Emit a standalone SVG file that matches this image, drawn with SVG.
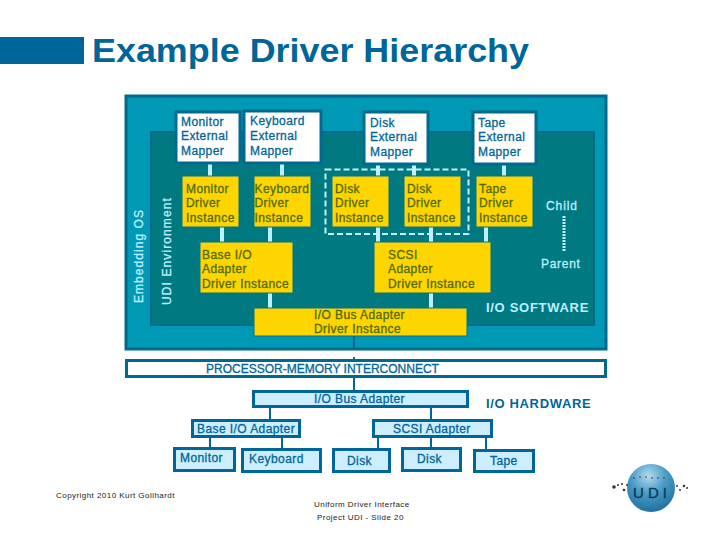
<svg xmlns="http://www.w3.org/2000/svg" width="720" height="540" viewBox="0 0 720 540">
<style>
text{font-family:"Liberation Sans",Arial,sans-serif}
.title{font-size:33.5px;font-weight:bold;fill:#006699}
.w{fill:#fff;stroke:#006A8E;stroke-width:3}
.y{fill:#FFD500;stroke:#00738A;stroke-width:1}
.h{fill:#CCEEFF;stroke:#006699;stroke-width:3}
.tb{font-size:12px;fill:#006699;stroke:#006699;stroke-width:.3;letter-spacing:.42px}
.ty{font-size:12px;fill:#4F6B00;stroke:#4F6B00;stroke-width:.3;letter-spacing:.42px}
.tl{font-size:12px;fill:#BDEFFF;stroke:#BDEFFF;stroke-width:.3}
.bl{font-size:13px;font-weight:bold;fill:#BDEFFF}
.ts{font-size:8px;fill:#222;letter-spacing:.45px}
.lc{stroke:#BDEFFF;stroke-width:4;fill:none}
.dc{stroke:#006699;stroke-width:2;fill:none}
</style>
<defs><radialGradient id="globe" cx="45%" cy="25%" r="80%"><stop offset="0" stop-color="#B5DAEA"/><stop offset=".45" stop-color="#4A9CC8"/><stop offset="1" stop-color="#1B6C98"/></radialGradient></defs>
<rect x="0" y="37" width="84" height="27" fill="#006699"/>
<text class="title" x="92" y="62" textLength="437" lengthAdjust="spacingAndGlyphs">Example Driver Hierarchy</text>

<g id="embedding-os"><rect x="126" y="96" width="480" height="253" fill="#0099B5" stroke="#006A8E" stroke-width="3"/>
<text class="tl" transform="translate(143,303) rotate(-90)" letter-spacing="1.05">Embedding OS</text></g>
<g id="udi-environment"><rect x="151" y="132" width="443" height="193" fill="#007A80" stroke="#006A8E" stroke-width="2"/>
<text class="tl" transform="translate(171,305) rotate(-90)" letter-spacing="1.1">UDI Environment</text></g>

<g id="connectors">
<path class="lc" d="M210 163V176M282 163V176M222 227V242M270 227V242M270 293V308M378 164V176M414 164V176M504 164V176M378 227V242M431 227V242M486 227V242M431 293V308"/>
<path d="M564 216V251" stroke="#BDEFFF" stroke-width="3" stroke-dasharray="2 1" fill="none"/>
<path class="dc" d="M354 336V349M354 357V359M354 378V390M270 408V419M431 408V419M210 438V447M282 438V448M378 438V448M431 438V447M486 438V449"/>
</g>

<rect x="325.500" y="169.500" width="143" height="64.500" fill="none" stroke="#C5F0F8" stroke-width="2" stroke-dasharray="6 3"/>

<g id="monitor-mapper"><rect class="w" x="176" y="112" width="64" height="51"/><text class="tb" x="181" y="126">Monitor</text><text class="tb" x="181" y="140">External</text><text class="tb" x="181" y="155">Mapper</text></g>
<g id="keyboard-mapper"><rect class="w" x="244" y="111" width="77" height="52"/><text class="tb" x="250" y="125">Keyboard</text><text class="tb" x="250" y="140">External</text><text class="tb" x="250" y="155">Mapper</text></g>
<g id="disk-mapper"><rect class="w" x="364" y="112" width="64" height="52"/><text class="tb" x="370" y="127">Disk</text><text class="tb" x="370" y="141">External</text><text class="tb" x="370" y="156">Mapper</text></g>
<g id="tape-mapper"><rect class="w" x="473" y="112" width="63" height="52"/><text class="tb" x="478" y="127">Tape</text><text class="tb" x="478" y="141">External</text><text class="tb" x="478" y="156">Mapper</text></g>

<g id="monitor-driver"><rect class="y" x="182" y="176" width="57" height="51"/><text class="ty" x="186" y="193">Monitor</text><text class="ty" x="186" y="207">Driver</text><text class="ty" x="186" y="222">Instance</text></g>
<g id="keyboard-driver"><rect class="y" x="254" y="176" width="57" height="51"/><text class="ty" x="254.500" y="193">Keyboard</text><text class="ty" x="254.500" y="207">Driver</text><text class="ty" x="254.500" y="222">Instance</text></g>
<g id="disk-driver-1"><rect class="y" x="332" y="176" width="57" height="51"/><text class="ty" x="335" y="193">Disk</text><text class="ty" x="335" y="207">Driver</text><text class="ty" x="335" y="222">Instance</text></g>
<g id="disk-driver-2"><rect class="y" x="404" y="176" width="57" height="51"/><text class="ty" x="407" y="193">Disk</text><text class="ty" x="407" y="207">Driver</text><text class="ty" x="407" y="222">Instance</text></g>
<g id="tape-driver"><rect class="y" x="476" y="176" width="57" height="51"/><text class="ty" x="479" y="193">Tape</text><text class="ty" x="479" y="207">Driver</text><text class="ty" x="479" y="222">Instance</text></g>
<g id="base-io-driver"><rect class="y" x="200" y="242" width="93" height="51"/><text class="ty" x="202" y="259">Base I/O</text><text class="ty" x="202" y="273">Adapter</text><text class="ty" x="202" y="288">Driver Instance</text></g>
<g id="scsi-driver"><rect class="y" x="374" y="242" width="117" height="51"/><text class="ty" x="388" y="259">SCSI</text><text class="ty" x="388" y="273">Adapter</text><text class="ty" x="388" y="288">Driver Instance</text></g>
<g id="io-bus-driver"><rect class="y" x="254" y="308" width="213" height="28"/><text class="ty" x="314" y="319">I/O Bus Adapter</text><text class="ty" x="314" y="333">Driver Instance</text></g>

<text class="tl" x="546" y="210" letter-spacing=".9">Child</text>
<text class="tl" x="541" y="268" letter-spacing=".7">Parent</text>
<text class="bl" x="486" y="312" letter-spacing=".7">I/O SOFTWARE</text>

<g id="interconnect"><rect class="w" x="126.500" y="360.500" width="479" height="16" stroke="#006699"/><text class="tb" x="206" y="373" style="letter-spacing:0">PROCESSOR-MEMORY INTERCONNECT</text></g>
<g id="io-bus-adapter"><rect class="h" x="253.500" y="391.500" width="214" height="15"/><text class="tb" x="314" y="403">I/O Bus Adapter</text></g>
<text x="486" y="408" font-size="13" font-weight="bold" fill="#006699" letter-spacing=".65">I/O HARDWARE</text>
<g id="base-io-adapter"><rect class="h" x="192.500" y="420.500" width="107" height="16"/><text class="tb" x="197" y="433">Base I/O Adapter</text></g>
<g id="scsi-adapter"><rect class="h" x="373.500" y="420.500" width="118" height="16"/><text class="tb" x="393" y="433">SCSI Adapter</text></g>
<g id="monitor"><rect class="h" x="174.500" y="448.500" width="60" height="22"/><text class="tb" x="180" y="462">Monitor</text></g>
<g id="keyboard"><rect class="h" x="242.500" y="449.500" width="78" height="22"/><text class="tb" x="249" y="463">Keyboard</text></g>
<g id="disk-1"><rect class="h" x="333.500" y="449.500" width="56" height="22"/><text class="tb" x="347" y="465">Disk</text></g>
<g id="disk-2"><rect class="h" x="402.500" y="448.500" width="58" height="22"/><text class="tb" x="417" y="463">Disk</text></g>
<g id="tape"><rect class="h" x="474.500" y="450.500" width="59" height="21"/><text class="tb" x="490" y="465">Tape</text></g>

<text class="ts" x="56" y="498">Copyright 2010 Kurt Gollhardt</text>
<text class="ts" x="314" y="507">Uniform Driver Interface</text>
<text class="ts" x="317" y="520">Project UDI - Slide 20</text>

<g id="logo">
<circle cx="651" cy="488" r="24" fill="url(#globe)"/>
<text x="652" y="498" text-anchor="middle" font-size="15" letter-spacing="4" fill="#0E3A5A" stroke="#0E3A5A" stroke-width=".4">UDI</text>
<g fill="#333"><circle cx="614" cy="487" r="1.800"/><circle cx="618" cy="485" r="1"/><circle cx="622" cy="484" r="1"/><circle cx="624" cy="490" r="1.300"/><circle cx="627" cy="485" r="1"/><circle cx="634" cy="478" r=".8"/><circle cx="640" cy="477" r=".8"/><circle cx="646" cy="477" r=".8"/><circle cx="652" cy="478" r=".8"/><circle cx="658" cy="478" r=".8"/><circle cx="664" cy="478" r=".8"/><circle cx="677" cy="486" r="1"/><circle cx="680" cy="490" r="1"/><circle cx="684" cy="486" r="1.200"/><circle cx="687" cy="488" r="1"/></g>
</g>
</svg>
